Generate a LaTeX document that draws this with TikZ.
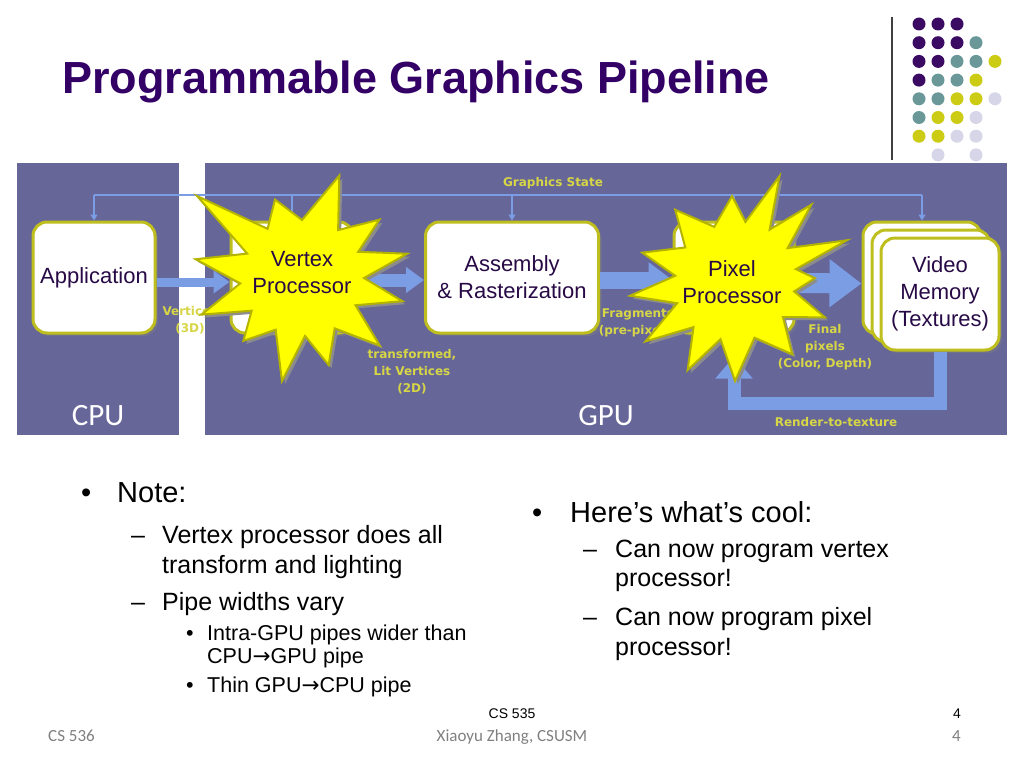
\documentclass[tikz,border=0pt]{standalone}
\usepackage{fontspec}
\setmainfont{Liberation Sans}
\newfontfamily\tagfamily{DejaVu Sans}
\newfontfamily\footfamily{Carlito}
\usetikzlibrary{arrows.meta,shadows}

\definecolor{titlepurple}{RGB}{51,0,102}
\definecolor{panelblue}{RGB}{102,102,153}
\definecolor{pipeblue}{RGB}{123,157,228}
\definecolor{rimolive}{RGB}{190,190,30}
\definecolor{boxtext}{RGB}{40,10,70}
\definecolor{tagyellow}{RGB}{214,214,70}
\definecolor{burstyellow}{RGB}{255,255,0}
\definecolor{burstrim}{RGB}{180,180,0}
\definecolor{dotpurple}{RGB}{59,10,99}
\definecolor{dotteal}{RGB}{106,152,152}
\definecolor{dotolive}{RGB}{204,204,20}
\definecolor{dotlilac}{RGB}{214,214,232}
\definecolor{footgray}{RGB}{128,128,128}

\newcommand\pipearrow{{\tagfamily →}}

\tikzset{
  stage/.style={draw=rimolive, line width=3pt, fill=white, rounded corners=14pt,
    minimum width=122pt, minimum height=111pt, align=center, text=boxtext,
    font=\fontsize{22}{27}\selectfont,
    drop shadow={shadow xshift=3pt, shadow yshift=-3pt, opacity=0.45}},
  burst/.style={draw=burstrim, line width=2pt, fill=burstyellow,
    preaction={fill=black!45, transform canvas={shift={(3pt,-3pt)}}}},
  burstlabel/.style={align=center, text=boxtext, font=\fontsize{22}{27}\selectfont},
  pipe/.style={draw=pipeblue},
  stateline/.style={draw=pipeblue, line width=1.3pt},
  tag/.style={text=tagyellow, align=center, font=\tagfamily\bfseries\fontsize{12}{17}\selectfont},
  unitlabel/.style={text=white, font=\footfamily\fontsize{31}{34}\selectfont},
  lvlone/.style={anchor=base west, inner sep=0pt, font=\fontsize{29}{34}\selectfont},
  lvltwo/.style={anchor=base west, inner sep=0pt, font=\fontsize{25}{30}\selectfont},
  lvlthree/.style={anchor=base west, inner sep=0pt, font=\fontsize{21.5}{24}\selectfont},
}

\begin{document}
\begin{tikzpicture}[x=1pt, y=-1pt]
  \fill[white] (0,0) rectangle (1024,768);
  \useasboundingbox (0,0) rectangle (1024,768);

  % title and corner decoration
  \node[anchor=base west, inner sep=0pt, text=titlepurple,
    font=\bfseries\fontsize{45}{50}\selectfont] (title) at (62,93) {Programmable Graphics Pipeline};
  \draw[black!75, line width=1.4pt] (892,17) -- (892,160);
  \foreach \i/\j/\c in {1/1/dotpurple, 2/1/dotpurple, 3/1/dotpurple,
      1/2/dotpurple, 2/2/dotpurple, 3/2/dotpurple, 4/2/dotteal,
      1/3/dotpurple, 2/3/dotpurple, 3/3/dotteal, 4/3/dotteal, 5/3/dotolive,
      1/4/dotpurple, 2/4/dotteal, 3/4/dotteal, 4/4/dotolive,
      1/5/dotteal, 2/5/dotteal, 3/5/dotolive, 4/5/dotolive, 5/5/dotlilac,
      1/6/dotteal, 2/6/dotolive, 3/6/dotolive, 4/6/dotlilac,
      1/7/dotolive, 2/7/dotolive, 3/7/dotlilac, 4/7/dotlilac,
      2/8/dotlilac, 4/8/dotlilac}
    \fill[\c] ({919+19*(\i-1)},{24+18.7*(\j-1)}) circle (6.5);

  % panels
  \fill[panelblue] (17,163) rectangle (179,435);
  \fill[panelblue] (205,163) rectangle (1007,435);
  \node[unitlabel] (cpu) at (98,416) {CPU};
  \node[unitlabel] (gpu) at (606,416) {GPU};

  % stages
  \node[stage] (app) at (94,277.5) {Application};
  \node[stage] (vtx) at (292,277.5) {};
  \node[stage, minimum width=173pt] (asm) at (512,277.5) {Assembly\\\& Rasterization};
  \node[stage, minimum width=120pt] (pix) at (734,277.5) {};
  \node[stage, minimum width=118pt, minimum height=112pt] (vm3) at (922,278) {};
  \node[stage, minimum width=118pt, minimum height=112pt] (vm2) at (931,286) {};
  \node[stage, minimum width=118pt, minimum height=112pt] (vm1) at (940,294) {Video\\Memory\\(Textures)};

  % graphics state bus
  \coordinate (bus) at (0,195);
  \coordinate (loopbase) at (0,403);
  \draw[stateline] (app.north |- bus) -- (vm3.north |- bus);
  \foreach \n in {app,vtx,asm,pix,vm3}
    \draw[stateline, -{Triangle[width=7pt,length=6pt]}] (\n.north |- bus) -- (\n.north);
  \node[tag] (gstate) at (553,183) {Graphics State};

  % pipes
  \draw[pipe, line width=9pt, -{Triangle[width=22pt,length=16pt]}]
    ([yshift=-4.5pt]app.east) -- ([yshift=-4.5pt]vtx.west);
  \draw[pipe, line width=13pt, -{Triangle[width=25pt,length=18pt]}]
    ([yshift=-2.5pt]vtx.east) -- ([yshift=-2.5pt]asm.west);
  \draw[pipe, line width=17pt, -{Triangle[width=34pt,length=24pt]}]
    ([yshift=-2.5pt]asm.east) -- ([yshift=-2.5pt]pix.west);
  \draw[pipe, line width=20pt, -{Triangle[width=46pt,length=32pt]}]
    ([yshift=-5.5pt]pix.east) -- ([yshift=-5.5pt]vm3.west);
  \draw[pipe, line width=13pt, -{Triangle[width=36pt,length=22pt]}]
    (vm1.south) -- (vm1.south |- loopbase) -- (pix.south |- loopbase) -- ([yshift=-22pt]pix.south);

  % pipe labels
  \node[tag] (vin) at (190,320) {Vertices\\(3D)};
  \node[tag] (vout) at (412,372) {transformed,\\Lit Vertices\\(2D)};
  \node[tag] (frag) at (638,323) {Fragments\\(pre-pixels)};
  \node[tag] (fin) at (825,347) {Final\\pixels\\(Color, Depth)};
  \node[tag] (rtt) at (836,422) {Render-to-texture};

  % programmable stages
  \coordinate (vstar) at (302,278);
  \coordinate (pstar) at (735,281);
  \begin{scope}[shift={(vstar)}]
    \draw[burst] (170:108pt) -- (156:60pt) -- (142:133pt) -- (125:60pt) -- (109:83pt)
      -- (90:58pt) -- (70:109pt) -- (53:60pt) -- (37:97pt) -- (25:62pt) -- (13:108pt)
      -- (0:62pt) -- (-13:103pt) -- (-27:60pt) -- (-41:103pt) -- (-57:60pt) -- (-73:91pt)
      -- (-87:58pt) -- (-101:105pt) -- (-117:58pt) -- (-133:86pt) -- (-147:60pt)
      -- (-160:107pt) -- (-175:62pt) -- cycle;
  \end{scope}
  \begin{scope}[shift={(pstar)}]
    \draw[burst] (163:97pt) -- (146:60pt) -- (130:93pt) -- (111:58pt) -- (92:85pt)
      -- (80:60pt) -- (67:114pt) -- (56:62pt) -- (45:108pt) -- (32:62pt) -- (20:119pt)
      -- (11:62pt) -- (2:80pt) -- (-10:60pt) -- (-22:97pt) -- (-37:60pt) -- (-52:93pt)
      -- (-71:60pt) -- (-90:100pt) -- (-104:60pt) -- (-118:101pt) -- (-132:62pt)
      -- (-146:108pt) -- (-159:62pt) -- (-172:106pt) -- (175:60pt) -- cycle;
  \end{scope}
  \node[burstlabel] (vlabel) at (302,273) {Vertex\\Processor};
  \node[burstlabel] (plabel) at (732,282) {Pixel\\Processor};

  % notes
  \node[lvlone] (notedot) at (81,502) {•};
  \node[lvlone] (note) at (117,502) {Note:};
  \node[lvltwo] (dashone) at (131,543) {–};
  \node[lvltwo] (vtxall) at (162,543) {Vertex processor does all};
  \node[lvltwo] (vtxall2) at (162,573) {transform and lighting};
  \node[lvltwo] (dashtwo) at (131,610) {–};
  \node[lvltwo] (widths) at (162,610) {Pipe widths vary};
  \node[lvlthree] (dotone) at (186,640) {•};
  \node[lvlthree] (intra) at (207,640) {Intra-GPU pipes wider than};
  \node[lvlthree] (intra2) at (207,663) {CPU\pipearrow GPU pipe};
  \node[lvlthree] (dottwo) at (186,692) {•};
  \node[lvlthree] (thin) at (207,692) {Thin GPU\pipearrow CPU pipe};

  \node[lvlone] (cooldot) at (532,522) {•};
  \node[lvlone] (cool) at (570,522) {Here’s what’s cool:};
  \node[lvltwo] (dashthree) at (583,557) {–};
  \node[lvltwo] (progv) at (615,557) {Can now program vertex};
  \node[lvltwo] (progv2) at (615,586) {processor!};
  \node[lvltwo] (dashfour) at (583,625) {–};
  \node[lvltwo] (progp) at (615,625) {Can now program pixel};
  \node[lvltwo] (progp2) at (615,655) {processor!};

  % footer
  \node[anchor=base, inner sep=0pt, font=\fontsize{14}{16}\selectfont] (course) at (512,718) {CS 535};
  \node[anchor=base east, inner sep=0pt, font=\fontsize{14}{16}\selectfont] (page) at (961,718) {4};
  \node[anchor=base west, inner sep=0pt, text=footgray, font=\footfamily\fontsize{17}{19}\selectfont] (course2) at (48,741) {CS 536};
  \node[anchor=base, inner sep=0pt, text=footgray, font=\footfamily\fontsize{17}{19}\selectfont] (author) at (512,741) {Xiaoyu Zhang, CSUSM};
  \node[anchor=base east, inner sep=0pt, text=footgray, font=\footfamily\fontsize{17}{19}\selectfont] (page2) at (961,741) {4};
\end{tikzpicture}
\end{document}
